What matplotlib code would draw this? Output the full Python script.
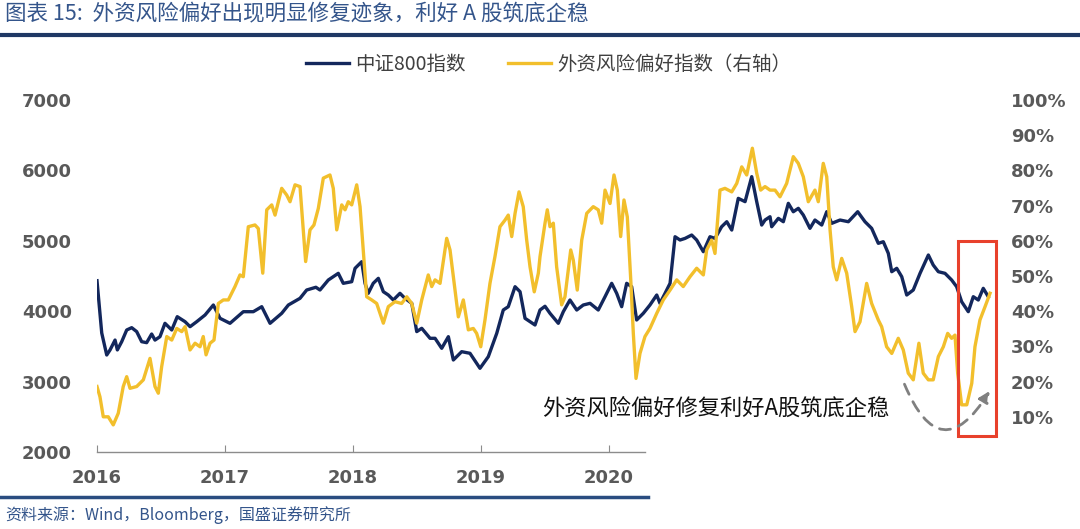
import matplotlib
matplotlib.use("Agg")
import matplotlib.pyplot as plt
from matplotlib.patches import Rectangle, FancyArrowPatch
from matplotlib.ticker import FuncFormatter
import matplotlib.lines as mlines

CJK = ['Noto Sans CJK SC', 'DejaVu Sans']

# ---------------- data (decimal years) ----------------
csi_t = [2016.00, 2016.037, 2016.076, 2016.102, 2016.141, 2016.159, 2016.193, 2016.232, 2016.271,
         2016.310, 2016.349, 2016.388, 2016.427, 2016.453, 2016.492, 2016.531, 2016.584, 2016.627,
         2016.688, 2016.727, 2016.779, 2016.844, 2016.909, 2016.961, 2017.039, 2017.143, 2017.221,
         2017.287, 2017.352, 2017.443, 2017.495, 2017.586, 2017.638, 2017.71, 2017.742, 2017.807,
         2017.885, 2017.924, 2017.990, 2018.016, 2018.068, 2018.094, 2018.119, 2018.158, 2018.198,
         2018.237, 2018.276, 2018.315, 2018.367, 2018.406, 2018.459, 2018.498, 2018.537, 2018.602,
         2018.641, 2018.693, 2018.745, 2018.784, 2018.849, 2018.914, 2018.992, 2019.057, 2019.123,
         2019.174, 2019.213, 2019.266, 2019.305, 2019.344, 2019.422, 2019.461, 2019.500, 2019.539,
         2019.604, 2019.643, 2019.695, 2019.748, 2019.799, 2019.852, 2019.916, 2019.969, 2020.021,
         2020.060, 2020.099, 2020.138, 2020.177, 2020.216, 2020.268, 2020.320, 2020.373, 2020.398,
         2020.438, 2020.477, 2020.516, 2020.555, 2020.594, 2020.646, 2020.685, 2020.737, 2020.789,
         2020.828, 2020.880, 2020.920, 2020.959, 2021.010, 2021.063, 2021.115, 2021.154, 2021.193,
         2021.219, 2021.258, 2021.271, 2021.323, 2021.362, 2021.401, 2021.440, 2021.479, 2021.518,
         2021.570, 2021.609, 2021.662, 2021.701, 2021.740, 2021.805, 2021.870, 2021.943, 2022.000,
         2022.052, 2022.104, 2022.143, 2022.182, 2022.209, 2022.248, 2022.287, 2022.326, 2022.377,
         2022.430, 2022.495, 2022.533, 2022.573, 2022.625, 2022.677, 2022.716, 2022.755, 2022.807,
         2022.846, 2022.885, 2022.924, 2022.963]
csi_v = [4433, 3690, 3378, 3450, 3590, 3450, 3567, 3733, 3766,
         3710, 3567, 3553, 3676, 3590, 3638, 3828, 3733, 3922,
         3851, 3780, 3851, 3946, 4088, 3899, 3828, 3993, 3993,
         4064, 3828, 3970, 4088, 4183, 4301, 4340, 4301, 4443,
         4538, 4396, 4419, 4609, 4703, 4396, 4254, 4396, 4467,
         4277, 4230, 4159, 4254, 4183, 4112, 3710, 3757, 3615,
         3615, 3473, 3638, 3307, 3425, 3402, 3189, 3354, 3686,
         4017, 4064, 4348, 4277, 3899, 3804, 4017, 4070, 3970,
         3828, 3993, 4159, 4017, 4088, 4112, 4017, 4206, 4396,
         4254, 4064, 4396, 4348, 3875, 3970, 4088, 4230, 4112,
         4254, 4396, 5058, 5011, 5034, 5082, 5011, 4845, 5058,
         5034, 5200, 5271, 5153, 5603, 5556, 5911, 5556, 5224,
         5295, 5342, 5200, 5319, 5271, 5532, 5413, 5461, 5366,
         5177, 5295, 5224, 5413, 5248, 5295, 5271, 5413, 5271,
         5177, 4964, 4987, 4822, 4561, 4609, 4490, 4230, 4301,
         4538, 4798, 4656, 4561, 4538, 4443, 4348, 4135, 3993,
         4206, 4159, 4325, 4206]

risk_t = [2016.00, 2016.023, 2016.049, 2016.088, 2016.127, 2016.166, 2016.205, 2016.232, 2016.258,
          2016.310, 2016.362, 2016.414, 2016.453, 2016.479, 2016.505, 2016.545, 2016.584, 2016.623,
          2016.662, 2016.688, 2016.727, 2016.766, 2016.805, 2016.830, 2016.852, 2016.883, 2016.914,
          2016.948, 2016.987, 2017.026, 2017.078, 2017.117, 2017.143, 2017.182, 2017.234, 2017.260,
          2017.295, 2017.326, 2017.365, 2017.391, 2017.443, 2017.482, 2017.508, 2017.547, 2017.586,
          2017.630, 2017.664, 2017.695, 2017.729, 2017.768, 2017.820, 2017.846, 2017.873, 2017.912,
          2017.938, 2017.963, 2017.990, 2018.029, 2018.055, 2018.080, 2018.107, 2018.146, 2018.185,
          2018.237, 2018.276, 2018.328, 2018.380, 2018.420, 2018.459, 2018.498, 2018.537, 2018.588,
          2018.615, 2018.641, 2018.680, 2018.732, 2018.758, 2018.797, 2018.823, 2018.862, 2018.901,
          2018.940, 2018.966, 2018.998, 2019.031, 2019.070, 2019.109, 2019.148, 2019.188, 2019.213,
          2019.240, 2019.266, 2019.297, 2019.330, 2019.357, 2019.383, 2019.416, 2019.448, 2019.461,
          2019.500, 2019.518, 2019.539, 2019.565, 2019.591, 2019.630, 2019.656, 2019.701, 2019.721,
          2019.752, 2019.787, 2019.826, 2019.877, 2019.916, 2019.943, 2019.969, 2020.008, 2020.039,
          2020.065, 2020.091, 2020.117, 2020.143, 2020.170, 2020.190, 2020.211, 2020.242, 2020.281,
          2020.320, 2020.373, 2020.424, 2020.477, 2020.529, 2020.580, 2020.633, 2020.685, 2020.737,
          2020.763, 2020.802, 2020.828, 2020.867, 2020.906, 2020.959, 2020.998, 2021.037, 2021.076,
          2021.120, 2021.154, 2021.185, 2021.219, 2021.258, 2021.297, 2021.336, 2021.388, 2021.440,
          2021.479, 2021.518, 2021.557, 2021.609, 2021.635, 2021.674, 2021.701, 2021.727, 2021.752,
          2021.779, 2021.818, 2021.857, 2021.896, 2021.922, 2021.961, 2022.013, 2022.052, 2022.104,
          2022.130, 2022.169, 2022.209, 2022.260, 2022.299, 2022.338, 2022.377, 2022.421, 2022.455,
          2022.495, 2022.533, 2022.573, 2022.612, 2022.646, 2022.677, 2022.703, 2022.724, 2022.755,
          2022.795, 2022.834, 2022.859, 2022.898, 2022.938, 2022.977]
risk_v = [18.6, 15.7, 10.0, 10.0, 7.7, 11.0, 18.6, 21.4, 18.1,
          18.6, 20.5, 26.6, 18.6, 16.7, 24.2, 32.8, 31.8, 35.1,
          34.2, 35.6, 29.0, 30.9, 29.9, 32.8, 27.6, 30.9, 31.8,
          42.2, 43.2, 43.2, 47.0, 50.3, 49.8, 64.0, 64.5, 63.5,
          50.8, 68.8, 70.2, 67.3, 74.9, 73.0, 71.1, 75.9, 75.4,
          54.1, 63.1, 64.5, 69.2, 77.8, 78.7, 74.9, 63.1, 70.2,
          68.8, 71.1, 70.2, 75.9, 69.7, 57.4, 44.1, 43.2, 42.2,
          36.6, 41.3, 42.7, 42.2, 44.1, 42.2, 36.6, 43.2, 50.3,
          47.0, 48.9, 47.9, 60.7, 57.4, 46.0, 38.4, 43.2, 34.7,
          35.1, 33.7, 29.9, 37.5, 47.9, 55.5, 64.0, 65.9, 67.3,
          61.2, 67.8, 73.9, 69.7, 60.2, 52.6, 45.5, 50.8, 55.5,
          65.0, 68.8, 64.0, 65.0, 52.6, 41.8, 44.1, 57.4, 54.5,
          46.0, 60.2, 67.8, 69.7, 68.8, 65.0, 74.4, 70.6, 78.7,
          74.4, 61.2, 71.6, 66.8, 48.9, 33.7, 20.9, 28.0, 32.8,
          35.1, 39.4, 43.2, 46.0, 48.9, 47.0, 49.8, 52.2, 50.3,
          57.4, 60.2, 56.4, 74.4, 74.9, 73.9, 76.3, 81.0, 78.7,
          86.3, 79.2, 74.4, 75.4, 74.4, 74.4, 72.5, 76.3, 83.9,
          82.0, 78.2, 71.1, 74.4, 71.1, 82.0, 78.2, 63.1, 52.6,
          48.9, 55.0, 50.8, 41.3, 34.2, 37.0, 47.9, 42.2, 37.5,
          35.6, 29.9, 28.0, 32.3, 29.0, 22.4, 20.5, 30.9, 22.4,
          20.5, 20.5, 27.1, 29.9, 33.7, 32.3, 33.2, 22.4, 13.4,
          13.4, 19.5, 29.9, 37.5, 41.3, 45.1]

year_ticks = [2016, 2017, 2018, 2019, 2020]
left_ticks = [2000, 3000, 4000, 5000, 6000, 7000]
right_ticks = [10, 20, 30, 40, 50, 60, 70, 80, 90, 100]

title = "图表 15:  外资风险偏好出现明显修复迹象，利好 A 股筑底企稳"
source = "资料来源：Wind，Bloomberg，国盛证券研究所"
name_csi = "中证800指数"
name_risk = "外资风险偏好指数（右轴）"
note = "外资风险偏好修复利好A股筑底企稳"

NAVY = '#13275c'
GOLD = '#f2bf2c'
TICK = '#595959'
BLUE_T = '#34558b'

# ---------------- figure ----------------
fig = plt.figure(figsize=(10.8, 5.29), dpi=100)
ax = fig.add_axes([97/1080, 1-452/529, (993-97)/1080, (452-100)/529])
ax2 = ax.twinx()

l1, = ax.plot(csi_t, csi_v, color=NAVY, lw=2.4, solid_joinstyle='round')
l2, = ax2.plot(risk_t, [v/100 for v in risk_v], color=GOLD, lw=2.4, solid_joinstyle='round')

ax.set_xlim(2016, 2023.0)
ax.set_ylim(2000, 7000)
ax2.set_ylim(0, 1.0)

for a in (ax, ax2):
    for s in ('top', 'left', 'right'):
        a.spines[s].set_visible(False)
ax2.spines['bottom'].set_visible(False)
ax.spines['bottom'].set_color('#8c8c8c')
ax.spines['bottom'].set_linewidth(1.0)
ax.spines['bottom'].set_bounds(2016, 2020.28)

ax.set_xticks(year_ticks)
ax.set_xticklabels([str(y) for y in year_ticks])
ax.tick_params(axis='x', direction='in', length=5, color='#8c8c8c', pad=12,
               labelsize=13, labelcolor=TICK)
ax.set_yticks(left_ticks)
ax.tick_params(axis='y', length=0, pad=18, labelsize=13, labelcolor=TICK)
ax2.set_yticks([t/100 for t in right_ticks])
ax2.yaxis.set_major_formatter(FuncFormatter(lambda v, p: f"{v*100:.0f}%"))
ax2.tick_params(axis='y', length=0, pad=13, labelsize=13, labelcolor=TICK)
for lab in ax.get_xticklabels() + ax.get_yticklabels() + ax2.get_yticklabels():
    lab.set_fontweight('bold')

# red highlight box (right-axis coordinates)
ax2.add_patch(Rectangle((2022.73, 0.045), 0.29, 0.555, fill=False,
                        edgecolor='#e8412c', lw=2.2, clip_on=False, zorder=5))

# dashed curved arrow
arr = FancyArrowPatch((2022.30, 0.20), (2022.985, 0.18),
                      connectionstyle="arc3,rad=1.0", arrowstyle='-|>',
                      mutation_scale=16, color='#808080', lw=2.0,
                      linestyle=(0, (4, 3)), clip_on=False, zorder=6)
ax2.add_patch(arr)

ax2.text(2020.83, 0.125, note, family=CJK, fontsize=16, color='#111111',
         ha='center', va='center')

# legend
fig.legend([l1, l2], [name_csi, name_risk], loc='center',
           bbox_to_anchor=(0.508, 0.879), ncol=2, frameon=False,
           prop={'family': CJK, 'size': 14}, handlelength=2.2,
           columnspacing=2.2, handletextpad=0.3, labelcolor='#404040')

# title and rules
fig.text(5/1080, 1-14/529, title, family=CJK, fontsize=15.5, color=BLUE_T,
         style='italic', ha='left', va='center')
fig.add_artist(mlines.Line2D([0, 1], [1-35/529, 1-35/529], color='#1f3864',
                             lw=3, transform=fig.transFigure))
fig.add_artist(mlines.Line2D([0, 648/1080], [1-497/529, 1-497/529], color='#2a4d80',
                             lw=2.5, transform=fig.transFigure))
fig.text(5/1080, 1-515/529, source, family=CJK, fontsize=11.5, color=BLUE_T,
         style='italic', ha='left', va='center')

fig.savefig('out.png', dpi=100)
